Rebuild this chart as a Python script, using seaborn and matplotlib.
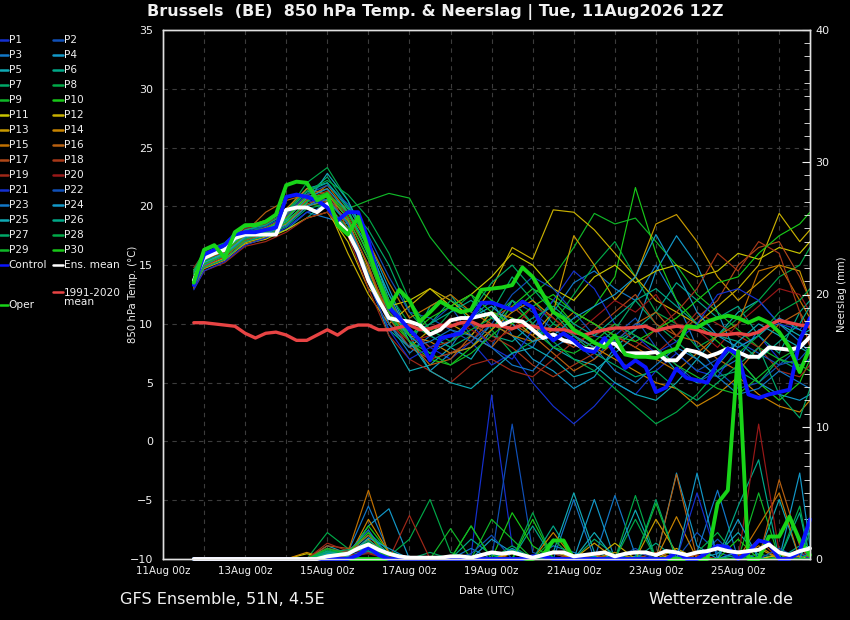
import matplotlib
matplotlib.use("Agg")
import matplotlib.pyplot as plt
from matplotlib.lines import Line2D
from matplotlib.ticker import MultipleLocator, FixedLocator
import pandas as pd
import seaborn as sns

# ---------------- time axes (hours after 11Aug 00z) ----------------
main_hours = list(range(18, 379, 6))                       # 11Aug18z .. 26Aug18z, 6-hourly
member_hours = [18] + list(range(24, 373, 12)) + [378]     # 11Aug18z, 00z/12z ..., 26Aug18z
tick_hours = [0, 48, 96, 144, 192, 240, 288, 336]
tick_labels = ["11Aug 00z", "13Aug 00z", "15Aug 00z", "17Aug 00z",
               "19Aug 00z", "21Aug 00z", "23Aug 00z", "25Aug 00z"]

# ---------------- main series (6-hourly) ----------------
oper_temp = [13.5, 16.3, 16.7, 15.6, 17.8, 18.4, 18.4, 18.7, 19.3, 21.8, 22.1, 22.0, 20.5, 21.0, 18.4, 17.6,
             19.1, 16.3, 13.7, 11.4, 12.9, 12.0, 10.2, 11.0, 11.9, 11.4, 11.0, 11.2, 12.9, 13.0, 13.1, 13.3,
             14.8, 14.0, 12.5, 11.0, 10.5, 9.5, 9.0, 8.4, 8.0, 9.0, 7.4, 7.2, 7.2, 7.1, 7.6, 7.9,
             9.8, 9.7, 10.2, 10.5, 10.7, 10.5, 10.1, 10.5, 10.1, 9.3, 8.0, 5.9, 8.0]
control_temp = [13.3, 15.9, 16.3, 16.7, 17.6, 17.8, 17.8, 18.0, 18.2, 20.8, 21.0, 20.8, 20.5, 19.9, 18.8, 19.5,
                19.5, 17.1, 13.7, 11.4, 10.5, 9.5, 8.6, 6.9, 8.8, 9.0, 9.2, 10.5, 11.8, 11.8, 11.5, 11.2,
                11.9, 11.4, 9.5, 8.6, 9.2, 8.6, 7.8, 7.6, 8.8, 7.5, 6.25, 6.9, 6.3, 4.2, 4.6, 6.2,
                5.4, 5.2, 5.0, 6.7, 7.9, 7.4, 4.0, 3.7, 4.0, 4.2, 4.4, 8.6, 10.5]
mean_temp = [13.7, 15.6, 16.0, 16.3, 17.3, 17.6, 17.6, 17.6, 17.6, 19.7, 19.9, 19.9, 19.5, 20.2, 18.7, 17.8,
             16.1, 13.7, 12.0, 10.5, 10.3, 10.2, 9.9, 9.1, 9.5, 10.3, 10.5, 10.5, 10.7, 10.9, 9.9, 10.3,
             10.2, 9.5, 8.8, 9.1, 8.6, 8.4, 7.9, 7.8, 8.4, 8.3, 7.5, 7.5, 7.5, 7.6, 6.9, 6.9,
             7.8, 7.6, 7.2, 7.5, 7.9, 7.6, 7.2, 7.2, 8.0, 7.9, 7.8, 8.0, 8.9]
clim_temp = [10.1, 10.1, 10.0, 9.9, 9.8, 9.2, 8.8, 9.2, 9.3, 9.05, 8.6, 8.6, 9.05, 9.5, 9.05, 9.65,
             9.9, 9.9, 9.5, 9.5, 9.7, 9.9, 9.5, 9.6, 9.9, 9.8, 10.1, 10.2, 9.8, 9.9, 9.8, 9.6,
             9.9, 9.8, 9.6, 9.5, 9.5, 9.3, 9.05, 9.3, 9.5, 9.65, 9.65, 9.7, 9.8, 9.4, 9.65, 9.8,
             9.7, 9.5, 9.2, 9.05, 9.1, 9.2, 9.05, 9.3, 9.9, 10.3, 10.1, 9.9, 9.8]
oper_prec = [0, 0, 0, 0, 0, 0, 0, 0, 0, 0, 0, 0, 0, 0, 0, 0,
             0, 0, 0, 0, 0, 0, 0, 0, 0, 0, 0, 0, 0, 0, 0, 0,
             0, 0, 0.3, 1.4, 1.4, 0, 0, 0, 0, 0, 0, 0, 0, 0, 0, 0,
             0, 0, 0, 4.2, 5.2, 15.7, 0, 0, 1.7, 1.7, 3.2, 1.4, 0.3]
control_prec = [0, 0, 0, 0, 0, 0, 0, 0, 0, 0, 0, 0, 0, 0, 0, 0,
                0.3, 0.9, 0.3, 0, 0, 0, 0, 0, 0, 0, 0, 0, 0, 0, 0, 0,
                0, 0.2, 0.2, 0, 0, 0, 0, 0, 0, 0, 0, 0, 0, 0, 0, 0.5,
                0, 0, 0.5, 1.0, 0.9, 0, 0.5, 1.4, 1.2, 0, 0, 0.6, 3.0]
mean_prec = [0, 0, 0, 0, 0, 0, 0, 0, 0, 0, 0, 0, 0, 0.2, 0.3, 0.4,
             0.8, 1.1, 0.7, 0.4, 0.2, 0.1, 0.1, 0.1, 0.1, 0.2, 0.2, 0.1, 0.3, 0.5, 0.4, 0.5,
             0.3, 0.1, 0.3, 0.5, 0.5, 0.2, 0.3, 0.4, 0.5, 0.2, 0.4, 0.5, 0.5, 0.3, 0.6, 0.5,
             0.3, 0.5, 0.6, 0.8, 0.6, 0.5, 0.6, 0.7, 1.1, 0.5, 0.3, 0.6, 0.8]

# ---------------- ensemble members, temperature (12-hourly) ----------------
t_p01 = [13.2, 15.2, 16.0, 17.5, 17.8, 18.5, 20.5, 20.0, 18.0, 14.0, 11.0, 9.5, 8.0, 7.0, 8.5, 6.5, 7.5, 5.0, 3.0, 1.5, 3.0, 5.0, 4.0, 6.0, 7.5, 6.0, 5.5, 8.0, 9.0, 7.0, 6.5, 7.0]
t_p02 = [13.8, 15.5, 16.2, 17.8, 18.2, 19.0, 21.0, 20.5, 19.5, 16.0, 12.0, 9.0, 10.0, 11.5, 9.0, 8.0, 12.0, 11.0, 9.5, 8.5, 7.0, 9.0, 10.5, 8.0, 6.5, 5.0, 6.0, 4.5, 5.0, 6.5, 8.0, 9.0]
t_p03 = [13.5, 15.0, 15.8, 17.2, 17.5, 18.0, 19.5, 19.0, 18.5, 15.0, 10.0, 7.5, 9.0, 8.0, 10.5, 12.0, 9.0, 8.0, 11.0, 13.5, 14.5, 13.0, 12.0, 15.0, 12.0, 8.0, 6.0, 7.0, 9.5, 10.0, 8.5, 7.5]
t_p04 = [14.0, 15.6, 16.5, 18.0, 18.5, 19.5, 21.5, 22.0, 20.0, 17.0, 13.0, 9.0, 6.0, 7.5, 8.0, 10.0, 9.0, 7.0, 6.0, 4.5, 5.5, 8.0, 9.5, 14.5, 17.5, 15.0, 11.0, 7.0, 5.0, 4.0, 3.5, 4.0]
t_p05 = [14.2, 15.4, 16.0, 17.0, 17.6, 18.5, 20.0, 21.0, 19.0, 14.0, 9.0, 6.0, 6.5, 8.0, 7.0, 9.5, 12.0, 10.0, 8.0, 7.0, 6.5, 5.0, 4.0, 3.5, 5.0, 7.0, 9.0, 11.0, 12.0, 10.0, 9.0, 9.5]
t_p06 = [13.0, 14.8, 15.5, 17.0, 17.3, 18.0, 19.0, 20.5, 18.5, 13.5, 9.5, 8.0, 11.5, 12.5, 10.0, 9.0, 8.5, 10.0, 12.0, 11.0, 10.0, 8.5, 9.5, 11.0, 13.5, 12.0, 10.5, 11.5, 9.0, 7.5, 11.0, 12.0]
t_p07 = [14.5, 16.0, 16.8, 18.2, 18.0, 19.0, 21.0, 22.5, 20.0, 18.0, 15.0, 11.0, 9.0, 8.0, 9.0, 11.0, 14.0, 12.0, 10.0, 9.0, 8.0, 9.5, 12.0, 10.0, 8.5, 7.0, 5.5, 6.0, 5.0, 7.0, 6.0, 8.0]
t_p08 = [13.6, 15.3, 16.2, 17.6, 18.4, 19.5, 22.0, 23.3, 20.5, 16.5, 12.5, 10.0, 9.0, 11.0, 12.5, 9.5, 7.5, 8.5, 10.0, 12.5, 15.0, 17.0, 14.0, 11.0, 10.0, 8.0, 9.0, 10.5, 12.0, 14.0, 15.0, 16.5]
t_p09 = [14.3, 15.8, 16.5, 18.0, 18.6, 19.2, 20.5, 21.0, 19.8, 20.5, 21.1, 20.7, 17.4, 15.2, 13.5, 12.0, 11.0, 12.5, 14.0, 16.5, 19.4, 18.5, 19.0, 17.0, 15.0, 12.5, 11.0, 9.5, 8.0, 7.0, 6.5, 6.0]
t_p10 = [13.9, 15.2, 16.0, 17.4, 17.9, 18.8, 20.2, 20.0, 18.2, 14.5, 10.5, 8.5, 7.0, 6.5, 8.0, 9.5, 11.5, 13.0, 12.0, 10.0, 11.5, 14.0, 21.6, 16.0, 12.0, 10.0, 8.5, 7.0, 5.0, 3.5, 5.0, 7.0]
t_p11 = [13.4, 14.9, 15.6, 16.8, 17.2, 18.0, 19.0, 19.5, 17.0, 13.0, 11.5, 12.0, 13.0, 11.5, 12.5, 14.0, 16.0, 15.0, 13.0, 12.0, 14.0, 15.0, 13.5, 14.5, 15.0, 14.0, 14.5, 16.0, 15.5, 16.5, 16.0, 17.0]
t_p12 = [14.6, 15.8, 16.3, 17.5, 18.0, 19.3, 20.8, 20.0, 16.0, 12.5, 10.0, 11.5, 13.0, 12.0, 10.5, 13.0, 16.5, 15.5, 19.7, 19.5, 18.0, 16.0, 14.0, 12.0, 11.0, 10.0, 11.5, 13.0, 15.0, 19.4, 17.0, 18.0]
t_p13 = [13.1, 14.7, 15.4, 16.9, 17.4, 18.5, 20.0, 20.5, 18.8, 14.8, 10.0, 8.0, 9.5, 10.0, 9.0, 11.0, 10.5, 9.0, 11.0, 17.5, 15.0, 12.0, 14.0, 18.5, 19.3, 17.0, 14.0, 12.0, 13.5, 15.0, 14.5, 12.0]
t_p14 = [14.0, 16.0, 16.7, 18.3, 18.8, 19.8, 21.5, 21.0, 19.0, 15.5, 11.0, 9.0, 8.5, 7.5, 8.0, 9.5, 11.0, 12.0, 10.5, 9.0, 8.0, 7.0, 6.0, 5.0, 4.5, 3.0, 4.0, 5.5, 4.0, 3.0, 2.5, 3.5]
t_p15 = [13.7, 15.1, 15.9, 17.5, 18.2, 19.0, 20.5, 21.8, 19.5, 17.0, 13.5, 10.5, 11.5, 12.5, 11.0, 10.0, 9.0, 8.5, 9.5, 11.0, 10.0, 9.0, 8.0, 7.0, 6.0, 7.5, 9.0, 10.0, 14.5, 15.0, 12.0, 10.5]
t_p16 = [14.4, 15.7, 16.4, 17.8, 19.5, 20.5, 21.0, 21.5, 18.0, 14.5, 11.0, 8.5, 6.5, 7.0, 9.0, 8.0, 10.0, 9.0, 7.5, 6.0, 7.0, 8.5, 10.0, 11.0, 9.0, 8.5, 7.0, 6.0, 8.0, 10.0, 11.0, 9.5]
t_p17 = [13.3, 14.9, 15.7, 17.1, 17.7, 18.6, 20.2, 20.8, 18.6, 15.0, 10.5, 8.0, 7.0, 7.5, 8.5, 10.5, 11.5, 10.0, 9.0, 8.0, 9.5, 11.0, 12.5, 10.0, 9.0, 10.5, 12.0, 15.0, 16.5, 17.0, 14.0, 12.0]
t_p18 = [14.1, 15.5, 16.1, 17.6, 18.1, 19.1, 20.6, 21.3, 19.2, 16.0, 12.0, 9.5, 8.0, 8.5, 10.0, 9.0, 8.0, 6.5, 5.5, 6.5, 7.5, 9.0, 8.0, 9.5, 11.0, 13.0, 16.0, 14.5, 17.0, 16.0, 11.0, 8.0]
t_p19 = [13.0, 14.5, 15.2, 16.6, 17.0, 17.8, 19.0, 19.5, 17.5, 13.0, 9.0, 7.0, 6.0, 5.0, 6.5, 7.0, 6.0, 5.5, 7.0, 8.5, 9.0, 10.0, 8.5, 7.5, 9.0, 11.0, 10.0, 9.0, 8.0, 6.0, 5.5, 6.5]
t_p20 = [14.8, 16.0, 16.6, 18.1, 18.5, 19.4, 20.9, 20.3, 18.0, 14.0, 10.0, 8.5, 9.0, 10.5, 9.5, 8.5, 9.5, 11.5, 10.5, 9.0, 10.5, 12.0, 11.0, 12.5, 10.0, 9.5, 8.0, 10.0, 11.5, 13.0, 12.5, 11.0]
t_p21 = [12.9, 14.5, 15.3, 16.7, 17.3, 18.2, 19.5, 20.0, 17.8, 13.5, 9.5, 7.0, 8.0, 9.0, 10.0, 8.0, 7.0, 9.5, 12.0, 14.5, 13.0, 10.0, 9.0, 7.5, 8.5, 10.0, 12.5, 13.0, 12.0, 10.0, 9.5, 10.5]
t_p22 = [14.2, 15.8, 16.4, 17.9, 18.3, 19.2, 21.0, 21.8, 20.2, 17.5, 14.0, 11.0, 10.5, 9.5, 8.5, 10.0, 12.5, 14.0, 13.0, 11.0, 9.0, 8.5, 10.0, 9.5, 7.5, 6.0, 7.0, 8.5, 7.5, 6.5, 7.0, 8.0]
t_p23 = [13.6, 15.0, 15.9, 17.3, 17.7, 18.4, 20.0, 20.6, 18.6, 14.2, 10.0, 8.0, 8.5, 9.5, 9.0, 8.0, 6.5, 6.0, 8.0, 9.0, 8.0, 6.0, 5.0, 6.5, 8.0, 7.0, 5.5, 4.0, 4.5, 6.0, 5.0, 4.5]
t_p24 = [14.0, 15.6, 16.3, 17.7, 18.0, 18.9, 20.7, 21.5, 19.5, 16.5, 12.5, 9.0, 7.5, 8.5, 10.5, 11.5, 10.0, 8.5, 9.0, 10.5, 11.5, 12.5, 14.0, 17.6, 14.5, 11.0, 9.0, 8.0, 9.0, 10.5, 9.5, 9.0]
t_p25 = [13.8, 15.2, 16.0, 17.4, 17.8, 18.7, 20.3, 22.8, 20.5, 17.0, 12.0, 8.5, 6.0, 5.0, 4.5, 6.0, 7.5, 8.0, 7.0, 5.5, 6.0, 7.5, 9.0, 8.0, 6.0, 5.0, 6.5, 8.5, 10.0, 9.0, 8.0, 7.5]
t_p26 = [14.4, 16.0, 16.6, 18.0, 18.4, 19.4, 21.2, 22.0, 19.8, 15.8, 11.5, 9.0, 10.0, 11.0, 12.0, 10.5, 9.5, 10.5, 11.5, 10.0, 9.0, 10.5, 12.0, 13.0, 11.5, 10.0, 9.0, 8.5, 7.0, 8.5, 10.0, 11.5]
t_p27 = [13.2, 14.8, 15.5, 17.0, 17.5, 18.3, 19.8, 20.2, 18.0, 14.0, 10.5, 9.0, 10.0, 12.0, 11.0, 13.5, 15.0, 13.0, 11.0, 9.0, 7.5, 6.5, 5.5, 6.0, 4.5, 3.5, 5.0, 6.5, 8.0, 4.0, 2.0, 4.5]
t_p28 = [14.6, 16.2, 16.9, 18.4, 18.7, 19.6, 21.3, 22.2, 21.0, 19.0, 16.0, 12.0, 9.5, 8.5, 9.5, 10.5, 12.0, 10.0, 8.5, 7.0, 6.0, 4.5, 3.0, 1.5, 2.5, 4.0, 6.0, 7.5, 9.0, 11.0, 12.0, 13.0]
t_p29 = [13.5, 15.1, 15.8, 17.2, 17.8, 18.6, 20.4, 21.2, 19.0, 15.5, 11.0, 8.5, 7.5, 6.5, 7.5, 9.0, 10.5, 9.5, 8.0, 7.5, 8.5, 10.0, 9.0, 8.0, 6.5, 5.5, 4.5, 4.0, 5.5, 7.0, 8.0, 9.0]
t_p30 = [14.2, 15.6, 16.2, 17.6, 18.1, 19.0, 20.8, 21.0, 19.5, 16.0, 12.0, 9.0, 10.5, 11.5, 12.5, 11.0, 10.0, 11.5, 12.5, 11.0, 10.0, 9.0, 8.5, 9.5, 10.5, 12.0, 13.5, 14.0, 16.0, 17.5, 18.5, 19.5]

# ---------------- ensemble members, precipitation (12-hourly, mm) ----------------
r_p01 = [0, 0, 0, 0, 0, 0, 0, 0, 0.2, 0.8, 0, 0, 0, 0, 0.3, 12.4, 1.0, 0, 0.4, 0, 0, 0.5, 0, 0, 0.2, 0, 0, 0.6, 0, 0, 0.3, 0.5]
r_p02 = [0, 0, 0, 0, 0, 0, 0, 0, 0, 0.5, 0.2, 0, 0, 0, 0, 0, 10.2, 0.5, 0, 0, 0.3, 0, 0.8, 0, 0, 2.0, 0.5, 0, 0, 0, 0, 0]
r_p03 = [0, 0, 0, 0, 0, 0, 0, 0.3, 0.5, 4.0, 0.5, 0, 0, 0, 0.8, 0, 0, 0, 1.0, 0.5, 0, 4.8, 0.3, 0, 0, 0.5, 5.2, 0, 0, 0.4, 0, 0]
r_p04 = [0, 0, 0, 0, 0, 0, 0, 0.5, 0.3, 2.5, 3.8, 0, 0, 0, 0, 1.5, 0.5, 0, 0, 0, 4.5, 0, 0.2, 0, 6.5, 1.0, 0, 0.5, 0, 0, 6.5, 1.0]
r_p05 = [0, 0, 0, 0, 0, 0, 0, 1.0, 0.4, 1.8, 0.4, 0, 0, 0.2, 0, 0, 0, 0, 0.5, 5.0, 0.5, 0, 3.7, 0, 0, 0, 0.4, 2.0, 0.3, 4.5, 0, 0]
r_p06 = [0, 0, 0, 0, 0, 0, 0, 0.4, 0.6, 1.2, 0.3, 0, 0, 0, 1.5, 0.3, 0, 2.5, 0, 0, 0.2, 0, 0, 1.2, 0, 0, 0, 4.0, 7.5, 0, 1.0, 0.5]
r_p07 = [0, 0, 0, 0, 0, 0, 0, 0.6, 0.4, 2.0, 0.6, 0, 0.5, 0, 0, 0, 0.7, 0, 0, 0, 1.5, 0.3, 0, 0, 0.4, 0, 0, 0.3, 0, 0, 0, 2.0]
r_p08 = [0, 0, 0, 0, 0, 0, 0, 2.0, 0.8, 1.0, 0.2, 1.5, 4.5, 0.5, 0, 0, 0, 3.5, 0, 0.3, 0, 0, 4.8, 0, 0, 0.5, 2.0, 0, 0.4, 0, 4.0, 0]
r_p09 = [0, 0, 0, 0, 0, 0, 0, 0.8, 0.3, 0.5, 0, 0, 0, 2.3, 0, 3.0, 1.5, 0, 0.6, 0, 0, 0, 0, 4.2, 0, 0, 0, 0, 5.0, 0, 0, 0.3]
r_p10 = [0, 0, 0, 0, 0, 0, 0, 0.3, 0.2, 2.5, 0.5, 0, 0, 0, 2.5, 0, 3.5, 1.0, 0, 0, 0, 0.5, 0, 0, 0, 0, 0, 1.5, 0, 0, 0.5, 0]
r_p11 = [0, 0, 0, 0, 0, 0, 0.4, 0, 0, 0.8, 0, 0, 0, 0, 0, 0, 0, 0, 0, 0.3, 0, 0, 0, 0, 0.4, 0, 0, 0, 0, 0.3, 0, 0]
r_p12 = [0, 0, 0, 0, 0, 0, 0, 0, 0.2, 0.6, 0, 0, 0, 0, 0, 0, 0.4, 0, 0, 0, 0, 1.2, 0, 0, 0.8, 0, 0, 0, 0, 0, 0.2, 0]
r_p13 = [0, 0, 0, 0, 0, 0, 0, 0, 0.3, 1.5, 0, 0, 0, 0, 0, 0, 0.5, 0, 0.6, 0, 1.2, 0, 0, 3.0, 0.5, 0, 0, 0, 0.8, 0, 0, 0]
r_p14 = [0, 0, 0, 0, 0, 0, 0.5, 0, 0, 3.0, 0.5, 0, 0, 0, 0, 0, 0, 0, 2.0, 0, 0, 0.5, 0, 0, 3.2, 0, 0, 0, 1.0, 0, 0, 0]
r_p15 = [0, 0, 0, 0, 0, 0, 0, 0.2, 0.5, 5.2, 0.3, 0, 0, 0, 0, 0, 0, 0, 0, 0, 0, 0, 0, 0, 0, 0, 0, 0, 2.5, 5.0, 0, 0]
r_p16 = [0, 0, 0, 0, 0, 0, 0, 0.5, 0.6, 1.8, 0, 0, 0, 0, 0, 0.5, 0, 0, 0, 0, 0, 0, 0, 0, 6.4, 0, 0, 0, 0, 6.0, 1.0, 0]
r_p17 = [0, 0, 0, 0, 0, 0, 0, 1.0, 0.8, 1.2, 0, 0, 0, 0, 0, 0, 0, 0, 0, 0, 0.3, 0, 0, 0.5, 0, 0, 0, 0, 0, 0, 0.5, 0]
r_p18 = [0, 0, 0, 0, 0, 0, 0, 0.8, 0.5, 0.9, 0, 0, 0, 0, 0, 0, 0, 0, 0.4, 0, 0, 0, 0, 0, 0, 0.3, 0, 0, 1.5, 0, 0, 0]
r_p19 = [0, 0, 0, 0, 0, 0, 0, 1.2, 0.6, 0.5, 0, 3.3, 0, 0, 0, 0, 0, 0, 0, 0, 0, 0, 0, 0, 0, 0, 0, 0, 0, 0, 0, 0]
r_p20 = [0, 0, 0, 0, 0, 0, 0, 0, 0.3, 0.4, 0, 0, 0, 0, 0, 0, 0, 0, 0, 0, 0, 0, 0, 0, 0, 0, 0, 0, 10.2, 0.5, 0, 0]
r_p21 = [0, 0, 0, 0, 0, 0, 0, 0, 0, 0.6, 0, 0, 0, 0, 0, 0, 0, 0.3, 0, 0, 0, 0, 0.6, 0, 0, 5.0, 0, 0, 0, 0, 0.4, 0]
r_p22 = [0, 0, 0, 0, 0, 0, 0, 0.3, 0.3, 1.0, 0, 0, 0, 0, 0.4, 1.8, 0, 0, 0, 0, 0, 0, 0, 0, 0, 0, 1.5, 0, 0, 0.8, 0, 0]
r_p23 = [0, 0, 0, 0, 0, 0, 0, 0, 0.5, 2.2, 0, 0, 0, 0, 0, 0, 0, 0, 0, 4.5, 0, 0, 0, 0, 0, 0, 0, 0, 0, 0, 0, 0.5]
r_p24 = [0, 0, 0, 0, 0, 0, 0, 0.4, 0.2, 1.6, 0.8, 0, 0, 0, 0, 0, 0.8, 0, 0, 0, 0, 0, 0, 0, 0, 6.5, 0, 3.0, 0, 0, 0, 0]
r_p25 = [0, 0, 0, 0, 0, 0, 0, 0.5, 0.5, 0.8, 0, 0, 0, 0, 0, 0, 0, 0, 0, 0, 2.0, 0, 0, 0, 0, 0, 0, 0, 0, 0, 0, 2.5]
r_p26 = [0, 0, 0, 0, 0, 0, 0, 0.6, 0.4, 1.4, 0.4, 0, 0, 0, 0, 0, 0, 0, 2.5, 0, 0, 0, 0, 0, 0, 0, 0, 0, 0, 0, 3.5, 0]
r_p27 = [0, 0, 0, 0, 0, 0, 0, 0.5, 0.7, 0.6, 0, 0, 0, 0, 0, 0, 0, 0, 0, 0, 0, 0, 0, 4.5, 0, 0, 0, 0, 0, 0, 0, 0]
r_p28 = [0, 0, 0, 0, 0, 0, 0, 0.7, 0.3, 1.3, 0, 0, 0, 0, 0, 0, 1.0, 0, 0, 0, 0, 0, 3.0, 0, 0, 0, 0, 0, 0, 0, 0, 0]
r_p29 = [0, 0, 0, 0, 0, 0, 0, 0.8, 0.4, 1.1, 0, 0, 0, 0, 2.5, 0, 0, 0, 1.5, 0, 0, 0, 0, 0, 0, 0, 0, 0, 0, 0, 0, 0]
r_p30 = [0, 0, 0, 0, 0, 0, 0, 0.3, 0.5, 2.0, 0, 0, 0, 0, 0, 0, 0, 3.0, 0, 0, 0, 0, 0, 0, 0, 0, 0, 0, 0, 0, 0, 0.4]

member_temps = [t_p01, t_p02, t_p03, t_p04, t_p05, t_p06, t_p07, t_p08, t_p09, t_p10,
                t_p11, t_p12, t_p13, t_p14, t_p15, t_p16, t_p17, t_p18, t_p19, t_p20,
                t_p21, t_p22, t_p23, t_p24, t_p25, t_p26, t_p27, t_p28, t_p29, t_p30]
member_precs = [r_p01, r_p02, r_p03, r_p04, r_p05, r_p06, r_p07, r_p08, r_p09, r_p10,
                r_p11, r_p12, r_p13, r_p14, r_p15, r_p16, r_p17, r_p18, r_p19, r_p20,
                r_p21, r_p22, r_p23, r_p24, r_p25, r_p26, r_p27, r_p28, r_p29, r_p30]
member_names = ["P%d" % (i + 1) for i in range(30)]

base_colors = ["#1530d0", "#1050b8", "#1278c8", "#1298c8", "#10aab4", "#00a888", "#00a868", "#00a848",
               "#10b828", "#18c818", "#c8c400", "#c8b000", "#c89a00", "#c88400", "#c07000", "#b86010",
               "#b04818", "#a83818", "#a02818", "#981818"]
member_colors = base_colors + base_colors[:10]

C_CTRL = "#0a14ff"
C_OPER = "#18d418"
C_MEAN = "#ffffff"
C_CLIM = "#e84444"
FG = "#f0f0f0"

for lst in member_temps + member_precs:
    assert len(lst) == len(member_hours), len(lst)
for lst in [oper_temp, control_temp, mean_temp, clim_temp, oper_prec, control_prec, mean_prec]:
    assert len(lst) == len(main_hours), len(lst)

# ---------------- data frames ----------------
rows = []
for name, tt, rr in zip(member_names, member_temps, member_precs):
    for h, t, r in zip(member_hours, tt, rr):
        rows.append((name, h / 24.0, t, r))
members = pd.DataFrame(rows, columns=["member", "day", "temp", "prec"])
main = pd.DataFrame({"day": [h / 24.0 for h in main_hours],
                     "oper_t": oper_temp, "ctrl_t": control_temp, "mean_t": mean_temp,
                     "clim_t": clim_temp, "oper_r": oper_prec, "ctrl_r": control_prec,
                     "mean_r": mean_prec})

# ---------------- figure ----------------
sns.set_style("dark")
plt.rcParams["font.family"] = ["DejaVu Sans"]
W, H = 850, 620
fig = plt.figure(figsize=(W / 100, H / 100), dpi=100, facecolor="black")
L, R, T, B = 163, 810, 30, 559
ax = fig.add_axes([L / W, 1 - B / H, (R - L) / W, (B - T) / H])
ax.set_facecolor("black")

pal = dict(zip(member_names, member_colors))
sns.lineplot(data=members, x="day", y="temp", hue="member", hue_order=member_names, palette=pal,
             linewidth=0.85, legend=False, estimator=None, ax=ax)
sns.lineplot(data=main, x="day", y="clim_t", color=C_CLIM, linewidth=2.4, ax=ax)
sns.lineplot(data=main, x="day", y="mean_t", color=C_MEAN, linewidth=2.8, ax=ax)
sns.lineplot(data=main, x="day", y="ctrl_t", color=C_CTRL, linewidth=2.8, ax=ax)
sns.lineplot(data=main, x="day", y="oper_t", color=C_OPER, linewidth=2.8, ax=ax)

ax.set_xlim(0, 15.75)
ax.set_ylim(-10, 35)
ax.xaxis.set_major_locator(FixedLocator([h / 24.0 for h in tick_hours]))
ax.set_xticklabels(tick_labels)
ax.yaxis.set_major_locator(MultipleLocator(5))
ax.grid(False)
for d in range(1, 16):
    ax.axvline(d, color="#3c3c3c", lw=0.8, ls=(0, (4, 4)), zorder=0)
for v in range(-5, 35, 5):
    ax.axhline(v, color="#3c3c3c", lw=0.8, ls=(0, (4, 4)), zorder=0)
ax.tick_params(axis="both", which="both", length=0, colors=FG)
ax.tick_params(axis="y", labelsize=8, pad=7)
ax.tick_params(axis="x", labelsize=7.4, pad=5)
ax.set_xlabel("Date (UTC)", color=FG, fontsize=7.3)
ax.xaxis.set_label_coords(0.5, -0.05)
ax.set_ylabel("850 hPa Temp. (°C)", color=FG, fontsize=7.3)
ax.yaxis.set_label_coords(-0.039, 0.5)
for s in ax.spines.values():
    s.set_color("#e0e0e0")
    s.set_linewidth(1.0)

# ---------------- precipitation on twin axis ----------------
ax2 = ax.twinx()
ax2.set_facecolor("none")
sns.lineplot(data=members, x="day", y="prec", hue="member", hue_order=member_names, palette=pal,
             linewidth=0.85, legend=False, estimator=None, ax=ax2)
sns.lineplot(data=main, x="day", y="oper_r", color=C_OPER, linewidth=2.8, ax=ax2)
sns.lineplot(data=main, x="day", y="ctrl_r", color=C_CTRL, linewidth=2.8, ax=ax2)
sns.lineplot(data=main, x="day", y="mean_r", color=C_MEAN, linewidth=2.8, ax=ax2)
for ln in ax2.lines:
    ln.set_clip_on(False)
ax2.set_ylim(0, 40)
ax2.set_xlim(0, 15.75)
ax2.yaxis.set_major_locator(MultipleLocator(10))
ax2.yaxis.set_minor_locator(MultipleLocator(1))
ax2.tick_params(axis="y", which="major", direction="in", length=6, colors=FG, labelsize=8, pad=4)
ax2.tick_params(axis="y", which="minor", direction="in", length=4, colors=FG)
ax2.set_ylabel("Neerslag (mm)", color=FG, fontsize=7.3)
ax2.yaxis.set_label_coords(1.042, 0.5)
ax2.grid(False)
for s in ax2.spines.values():
    s.set_color("#e0e0e0")
    s.set_linewidth(1.0)

# ---------------- legend (drawn at figure level) ----------------
def leg_item(col, y, label, color, ty=None):
    x0, x1, tx = (0, 8, 8.5) if col == 0 else (53, 63, 64)
    fig.add_artist(Line2D([x0 / W, x1 / W], [1 - y / H, 1 - y / H], color=color, lw=1.8,
                          transform=fig.transFigure))
    fig.text(tx / W, 1 - (ty if ty is not None else y) / H, label, color=FG, fontsize=7.6,
             ha="left", va="center", linespacing=0.95)

for i, (name, col) in enumerate(zip(member_names, member_colors)):
    leg_item(i % 2, 40 + 15 * (i // 2), name, col)
leg_item(0, 265, "Control", C_CTRL)
leg_item(1, 265, "Ens. mean", C_MEAN)
leg_item(1, 292, "1991-2020\nmean", C_CLIM, ty=297.5)
leg_item(0, 305, "Oper", C_OPER)

# ---------------- titles ----------------
fig.text(435 / W, 1 - 12 / H, "Brussels  (BE)  850 hPa Temp. & Neerslag | Tue, 11Aug2026 12Z",
         color=FG, fontsize=11.5, fontweight="bold", ha="center", va="center")
fig.text(120 / W, 1 - 599 / H, "GFS Ensemble, 51N, 4.5E", color=FG, fontsize=11.6, ha="left", va="center")
fig.text(793 / W, 1 - 599 / H, "Wetterzentrale.de", color=FG, fontsize=11.5, ha="right", va="center")

fig.savefig("out.png", dpi=100, facecolor="black")
